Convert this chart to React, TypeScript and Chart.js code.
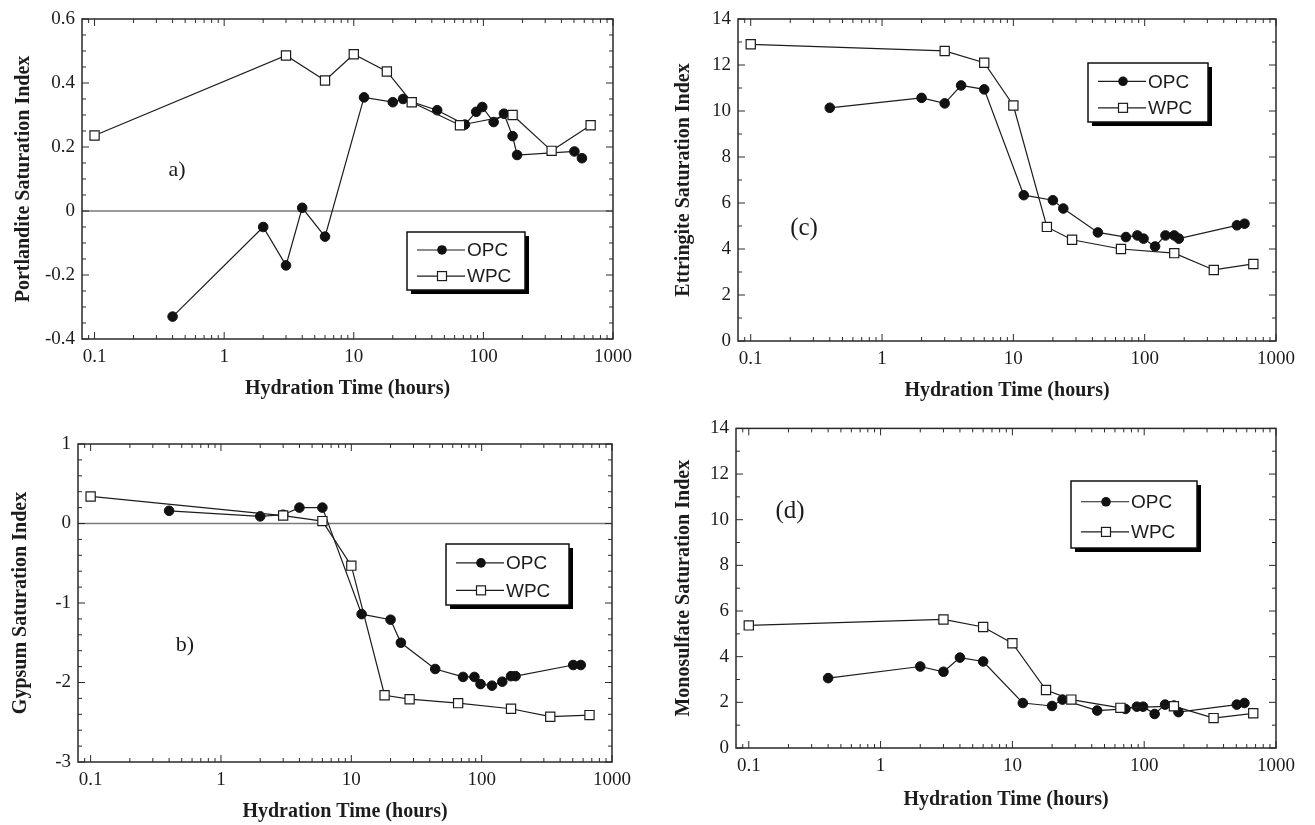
import React, { useEffect, useRef } from "react";
import { Chart, registerables } from "chart.js";

Chart.register(...registerables);

// ---------- data ----------
const opcHours = [0.4, 2, 3, 4, 6, 12, 20, 24, 44, 72, 88, 98, 120, 144, 168, 182, 504, 576];
const wpcHours = [0.1, 3, 6, 10, 18, 28, 66, 168, 336, 672];

const portlanditeOPC = [-0.33, -0.05, -0.17, 0.01, -0.08, 0.355, 0.34, 0.35, 0.315, 0.27, 0.31, 0.325, 0.278, 0.304, 0.234, 0.175, 0.186, 0.165];
const portlanditeWPC = [0.236, 0.486, 0.408, 0.49, 0.436, 0.34, 0.268, 0.3, 0.188, 0.268];

const gypsumOPC = [0.16, 0.09, 0.11, 0.2, 0.2, -1.14, -1.21, -1.5, -1.83, -1.93, -1.93, -2.02, -2.04, -1.99, -1.92, -1.92, -1.78, -1.78];
const gypsumWPC = [0.34, 0.1, 0.03, -0.53, -2.16, -2.21, -2.26, -2.33, -2.43, -2.41];

const ettringiteOPC = [10.14, 10.57, 10.33, 11.11, 10.94, 6.34, 6.12, 5.76, 4.72, 4.52, 4.59, 4.45, 4.11, 4.59, 4.59, 4.45, 5.03, 5.1];
const ettringiteWPC = [12.9, 12.61, 12.1, 10.24, 4.96, 4.4, 4.0, 3.82, 3.09, 3.35];

const monosulfateOPC = [3.06, 3.57, 3.34, 3.96, 3.79, 1.97, 1.84, 2.12, 1.64, 1.71, 1.81, 1.81, 1.49, 1.9, 1.86, 1.57, 1.9, 1.97];
const monosulfateWPC = [5.37, 5.63, 5.3, 4.59, 2.54, 2.12, 1.76, 1.83, 1.31, 1.52];

const xTickValues = [0.1, 1, 10, 100, 1000];
const xMinorMultipliers = [2, 3, 4, 5, 6, 7, 8, 9];
const portlanditeTicks = [-0.4, -0.2, 0, 0.2, 0.4, 0.6];
const gypsumTicks = [-3, -2, -1, 0, 1];
const ettringiteTicks = [0, 2, 4, 6, 8, 10, 12, 14];
const monosulfateTicks = [0, 2, 4, 6, 8, 10, 12, 14];

const seriesNames = ["OPC", "WPC"];
const xTitle = "Hydration Time (hours)";

// ---------- layout / style ----------
const SERIF = '"Liberation Serif", "Times New Roman", serif';
const SANS = '"Liberation Sans", Arial, sans-serif';
const INK = "#1c1c1c";
const TITLE_SIZE = 20;
const TICK_SIZE = 19;
const TITLE_LH = TITLE_SIZE * 1.2;
const X_MIN = 0.08;
const X_MAX = 1000;

type Panel = {
  box: { x: number; y: number; w: number; h: number };
  plot: { l: number; t: number; r: number; b: number };
  yTitleX: number;
  xTitleGap: number;
  yTitle: string;
  opc: number[];
  wpc: number[];
  yTicks: number[];
  yMinorStep: number;
  zeroLine: boolean;
  label: string;
  labelPos: { x: number; y: number };
  labelSize: number;
  legend: { x: number; y: number; w: number; h: number };
};

const panels: Panel[] = [
  {
    box: { x: 0, y: 0, w: 660, h: 410 },
    plot: { l: 82, t: 19, r: 613, b: 339 },
    yTitleX: 24,
    xTitleGap: 50,
    yTitle: "Portlandite Saturation Index",
    opc: portlanditeOPC,
    wpc: portlanditeWPC,
    yTicks: portlanditeTicks,
    yMinorStep: 0.05,
    zeroLine: true,
    label: "a)",
    labelPos: { x: 177, y: 170 },
    labelSize: 22,
    legend: { x: 407, y: 232, w: 118, h: 58 },
  },
  {
    box: { x: 660, y: 0, w: 655, h: 410 },
    plot: { l: 738, t: 19, r: 1276, b: 341 },
    yTitleX: 684,
    xTitleGap: 50,
    yTitle: "Ettringite Saturation Index",
    opc: ettringiteOPC,
    wpc: ettringiteWPC,
    yTicks: ettringiteTicks,
    yMinorStep: 1,
    zeroLine: false,
    label: "(c)",
    labelPos: { x: 804, y: 228 },
    labelSize: 25,
    legend: { x: 1088, y: 63, w: 120, h: 59 },
  },
  {
    box: { x: 0, y: 410, w: 660, h: 415 },
    plot: { l: 78, t: 444, r: 612, b: 762 },
    yTitleX: 21,
    xTitleGap: 50,
    yTitle: "Gypsum Saturation Index",
    opc: gypsumOPC,
    wpc: gypsumWPC,
    yTicks: gypsumTicks,
    yMinorStep: 0.2,
    zeroLine: true,
    label: "b)",
    labelPos: { x: 185, y: 645 },
    labelSize: 22,
    legend: { x: 446, y: 544, w: 123, h: 61 },
  },
  {
    box: { x: 660, y: 410, w: 655, h: 415 },
    plot: { l: 736, t: 425, r: 1276, b: 748 },
    yTitleX: 684,
    xTitleGap: 52,
    yTitle: "Monosulfate Saturation Index",
    opc: monosulfateOPC,
    wpc: monosulfateWPC,
    yTicks: monosulfateTicks,
    yMinorStep: 1,
    zeroLine: false,
    label: "(d)",
    labelPos: { x: 790, y: 511 },
    labelSize: 25,
    legend: { x: 1071, y: 481, w: 126, h: 67 },
  },
];

function makePaperPlugin(p: Panel) {
  return {
    id: "paper",
    beforeDatasetsDraw(chart: any) {
      if (!p.zeroLine) return;
      const { ctx, chartArea } = chart;
      const y0 = chart.scales.y.getPixelForValue(0);
      ctx.save();
      ctx.strokeStyle = "#7a7a7a";
      ctx.lineWidth = 1.6;
      ctx.beginPath();
      ctx.moveTo(chartArea.left, y0);
      ctx.lineTo(chartArea.right, y0);
      ctx.stroke();
      ctx.restore();
    },
    afterDraw(chart: any) {
      const { ctx, chartArea } = chart;
      const { left: L, right: R, top: T, bottom: B } = chartArea;
      const xs = chart.scales.x;
      const ys = chart.scales.y;
      ctx.save();
      // frame
      ctx.strokeStyle = "#2a2a2a";
      ctx.lineWidth = 1.5;
      ctx.strokeRect(L, T, R - L, B - T);

      // inside ticks
      ctx.lineWidth = 1;
      ctx.beginPath();
      const xMajor = xTickValues.filter((v) => v >= X_MIN && v <= X_MAX);
      const xMinor: number[] = [];
      [0.01, 0.1, 1, 10, 100].forEach((d) =>
        xMinorMultipliers.forEach((m) => {
          const v = d * m;
          if (v > X_MIN && v < X_MAX) xMinor.push(v);
        })
      );
      const xt = (v: number, len: number) => {
        const px = xs.getPixelForValue(v);
        ctx.moveTo(px, B);
        ctx.lineTo(px, B - len);
        ctx.moveTo(px, T);
        ctx.lineTo(px, T + len);
      };
      xMajor.forEach((v) => xt(v, 7));
      xMinor.forEach((v) => xt(v, 4));

      const yMin = p.yTicks[0];
      const yMax = p.yTicks[p.yTicks.length - 1];
      const n = Math.round((yMax - yMin) / p.yMinorStep);
      for (let i = 0; i <= n; i++) {
        const v = yMin + i * p.yMinorStep;
        const isMajor = p.yTicks.some((t) => Math.abs(t - v) < 1e-6);
        const len = isMajor ? 7 : 4;
        const py = ys.getPixelForValue(v);
        ctx.moveTo(L, py);
        ctx.lineTo(L + len, py);
        ctx.moveTo(R, py);
        ctx.lineTo(R - len, py);
      }
      ctx.stroke();

      // panel label
      ctx.fillStyle = INK;
      ctx.font = `${p.labelSize}px ${SERIF}`;
      ctx.textAlign = "center";
      ctx.textBaseline = "middle";
      ctx.fillText(p.label, p.labelPos.x - p.box.x, p.labelPos.y - p.box.y);

      // legend
      const lg = p.legend;
      const bx = lg.x - p.box.x;
      const by = lg.y - p.box.y;
      ctx.fillStyle = "#000";
      ctx.fillRect(bx + 4, by + 4, lg.w, lg.h);
      ctx.fillStyle = "#fff";
      ctx.fillRect(bx, by, lg.w, lg.h);
      ctx.strokeStyle = "#111";
      ctx.lineWidth = 1.5;
      ctx.strokeRect(bx, by, lg.w, lg.h);
      const rows = [by + lg.h * 0.31, by + lg.h * 0.76];
      seriesNames.forEach((name, i) => {
        const ry = rows[i];
        ctx.strokeStyle = INK;
        ctx.lineWidth = 1.2;
        ctx.beginPath();
        ctx.moveTo(bx + 10, ry);
        ctx.lineTo(bx + 58, ry);
        ctx.stroke();
        const mx = bx + 35;
        if (i === 0) {
          ctx.fillStyle = "#111";
          ctx.beginPath();
          ctx.arc(mx, ry, 4.8, 0, Math.PI * 2);
          ctx.fill();
        } else {
          ctx.fillStyle = "#fff";
          ctx.fillRect(mx - 4.5, ry - 4.5, 9, 9);
          ctx.strokeStyle = INK;
          ctx.lineWidth = 1.2;
          ctx.strokeRect(mx - 4.5, ry - 4.5, 9, 9);
        }
        ctx.fillStyle = INK;
        ctx.font = `19px ${SANS}`;
        ctx.textAlign = "left";
        ctx.textBaseline = "middle";
        ctx.fillText(name, bx + 60, ry + 1);
      });
      ctx.restore();
    },
  };
}

function PanelChart({ p }: { p: Panel }) {
  const ref = useRef<HTMLCanvasElement>(null);
  useEffect(() => {
    if (!ref.current) return;
    const yAxisW = p.plot.l - p.yTitleX + TITLE_LH / 2;
    const xAxisH = p.xTitleGap + TITLE_LH / 2;
    const padding = {
      left: p.yTitleX - TITLE_LH / 2 - p.box.x,
      top: p.plot.t - p.box.y,
      right: p.box.x + p.box.w - p.plot.r,
      bottom: p.box.y + p.box.h - p.plot.b - xAxisH,
    };
    const chart = new Chart(ref.current, {
      type: "line",
      data: {
        datasets: [
          {
            label: seriesNames[0],
            data: opcHours.map((x, i) => ({ x, y: p.opc[i] })),
            borderColor: INK,
            borderWidth: 1.2,
            pointStyle: "circle",
            pointRadius: 4.8,
            pointBackgroundColor: "#111",
            pointBorderColor: "#111",
            pointBorderWidth: 1,
            tension: 0,
            order: 1,
          },
          {
            label: seriesNames[1],
            data: wpcHours.map((x, i) => ({ x, y: p.wpc[i] })),
            borderColor: INK,
            borderWidth: 1.2,
            pointStyle: "rect",
            pointRadius: 6.5,
            pointBackgroundColor: "#fff",
            pointBorderColor: INK,
            pointBorderWidth: 1.2,
            tension: 0,
            order: 0,
          },
        ],
      },
      options: {
        responsive: false,
        animation: false,
        events: [],
        layout: { padding },
        plugins: {
          legend: { display: false },
          tooltip: { enabled: false },
        },
        scales: {
          x: {
            type: "logarithmic",
            min: X_MIN,
            max: X_MAX,
            afterBuildTicks: (s: any) => {
              s.ticks = xTickValues.map((v) => ({ value: v }));
            },
            afterFit: (s: any) => {
              s.height = xAxisH;
            },
            ticks: {
              callback: (v: any) => String(v),
              font: { family: SERIF, size: TICK_SIZE },
              color: INK,
              padding: 7,
              maxRotation: 0,
              autoSkip: false,
            },
            grid: { display: false, drawTicks: false },
            border: { display: false },
            title: {
              display: true,
              text: xTitle,
              font: { family: SERIF, size: TITLE_SIZE, weight: "bold" },
              color: INK,
              padding: 0,
            },
          },
          y: {
            type: "linear",
            min: p.yTicks[0],
            max: p.yTicks[p.yTicks.length - 1],
            afterBuildTicks: (s: any) => {
              s.ticks = p.yTicks.map((v) => ({ value: v }));
            },
            afterFit: (s: any) => {
              s.width = yAxisW;
            },
            ticks: {
              callback: (v: any) => String(v),
              font: { family: SERIF, size: TICK_SIZE },
              color: INK,
              padding: 7,
            },
            grid: { display: false, drawTicks: false },
            border: { display: false },
            title: {
              display: true,
              text: p.yTitle,
              font: { family: SERIF, size: TITLE_SIZE, weight: "bold" },
              color: INK,
              padding: 0,
            },
          },
        },
      } as any,
      plugins: [makePaperPlugin(p)],
    });
    return () => chart.destroy();
  }, [p]);
  return (
    <canvas
      ref={ref}
      width={p.box.w}
      height={p.box.h}
      style={{ position: "absolute", left: p.box.x, top: p.box.y, width: p.box.w, height: p.box.h }}
    />
  );
}

export default function App() {
  return (
    <div style={{ position: "absolute", left: 0, top: 0, width: 1315, height: 825, background: "#fff", overflow: "hidden" }}>
      {panels.map((p, i) => (
        <PanelChart key={i} p={p} />
      ))}
    </div>
  );
}
